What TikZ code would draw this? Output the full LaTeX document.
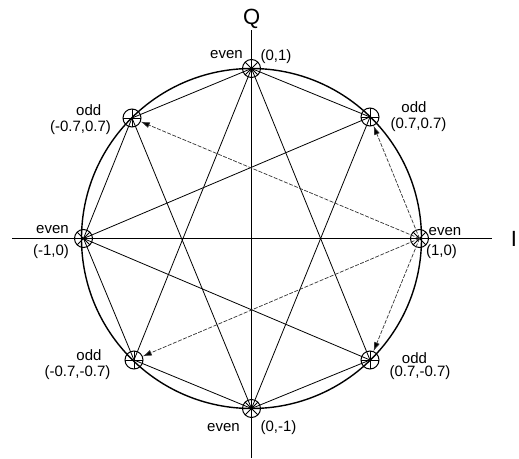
\documentclass[tikz,border=0pt]{standalone}
\usepackage{fontspec}
\setmainfont{Liberation Sans}
\usetikzlibrary{arrows.meta,calc}
\begin{document}
\begin{tikzpicture}[x=1pt,y=-1pt,
  mk/.style={draw,circle,minimum size=18pt,inner sep=0pt,line width=1pt},
  evenmk/.style={mk,path picture={\draw[line width=0.9pt] (path picture bounding box.center) +(45:9pt) -- +(225:9pt) +(135:9pt) -- +(315:9pt);}},
  oddmk/.style={mk,path picture={\draw[line width=0.9pt] (path picture bounding box.center) +(0:9pt) -- +(180:9pt) +(90:9pt) -- +(270:9pt);}},
  lbl/.style={font=\fontsize{15}{17}\selectfont,inner sep=0pt},
  axl/.style={font=\fontsize{22}{24}\selectfont,inner sep=0pt},
  chord/.style={line width=0.8pt},
  axis/.style={line width=0.8pt},
  darrow/.style={line width=0.7pt,dash pattern=on 4pt off 1.5pt,black!80,-{Latex[length=9pt,width=6pt,fill=black]}}]
\useasboundingbox (0,0) rectangle (519,458);
\coordinate (c) at (251.5,238.5);
% axes
\coordinate (axl) at (12,238.5);
\coordinate (axr) at (492,238.5);
\coordinate (axt) at (251.5,30);
\coordinate (axb) at (251.5,458);
\draw[axis] (axl) -- (axr);
\draw[axis] (axt) -- (axb);
% circle
\draw[line width=1.4pt] (c) circle (170);
% markers
\node[evenmk] (eT) at (251.5,68.5) {};
\node[evenmk] (eB) at (251.5,408.5) {};
\node[evenmk] (eL) at (83.5,238.5) {};
\node[evenmk] (eR) at (419.5,238.5) {};
\node[oddmk] (oUL) at (132,118) {};
\node[oddmk] (oUR) at (370,117) {};
\node[oddmk] (oLL) at (134,360) {};
\node[oddmk] (oLR) at (370,360) {};
% solid chords
\draw[chord] (eT.center) -- (oUL.center);
\draw[chord] (eT.center) -- (oUR.center);
\draw[chord] (eT.center) -- (oLL.center);
\draw[chord] (eT.center) -- (oLR.center);
\draw[chord] (eB.center) -- (oUL.center);
\draw[chord] (eB.center) -- (oUR.center);
\draw[chord] (eB.center) -- (oLL.center);
\draw[chord] (eB.center) -- (oLR.center);
\draw[chord] (eL.center) -- (oUL.center);
\draw[chord] (eL.center) -- (oUR.center);
\draw[chord] (eL.center) -- (oLL.center);
\draw[chord] (eL.center) -- (oLR.center);
% dashed arrows from (1,0)
\draw[darrow] (eR.center) -- (oUL);
\draw[darrow] (eR.center) -- (oLL);
\draw[darrow] (eR.center) -- (oUR);
\draw[darrow] (eR.center) -- (oLR);
% labels
\node[axl] (Q) at (251.7,19) {Q};
\node[axl] (I) at (514,239) {I};
\node[lbl] (t1) at (226.5,55) {even};
\node[lbl] (t2) at (276,57) {(0,1)};
\node[lbl] (t3) at (88.7,110) {odd};
\node[lbl] (t4) at (80.5,128) {(-0.7,0.7)};
\node[lbl] (t5) at (414,107) {odd};
\node[lbl] (t6) at (418.5,125) {(0.7,0.7)};
\node[lbl] (t7) at (52.5,230) {even};
\node[lbl] (t8) at (51,252) {(-1,0)};
\node[lbl] (t9) at (445,232) {even};
\node[lbl] (t10) at (441.5,252) {(1,0)};
\node[lbl] (t11) at (89,355) {odd};
\node[lbl] (t12) at (77.5,373) {(-0.7,-0.7)};
\node[lbl] (t13) at (414.5,358) {odd};
\node[lbl] (t14) at (420,373) {(0.7,-0.7)};
\node[lbl] (t15) at (223.5,428) {even};
\node[lbl] (t16) at (278.5,428) {(0,-1)};
\end{tikzpicture}
\end{document}
